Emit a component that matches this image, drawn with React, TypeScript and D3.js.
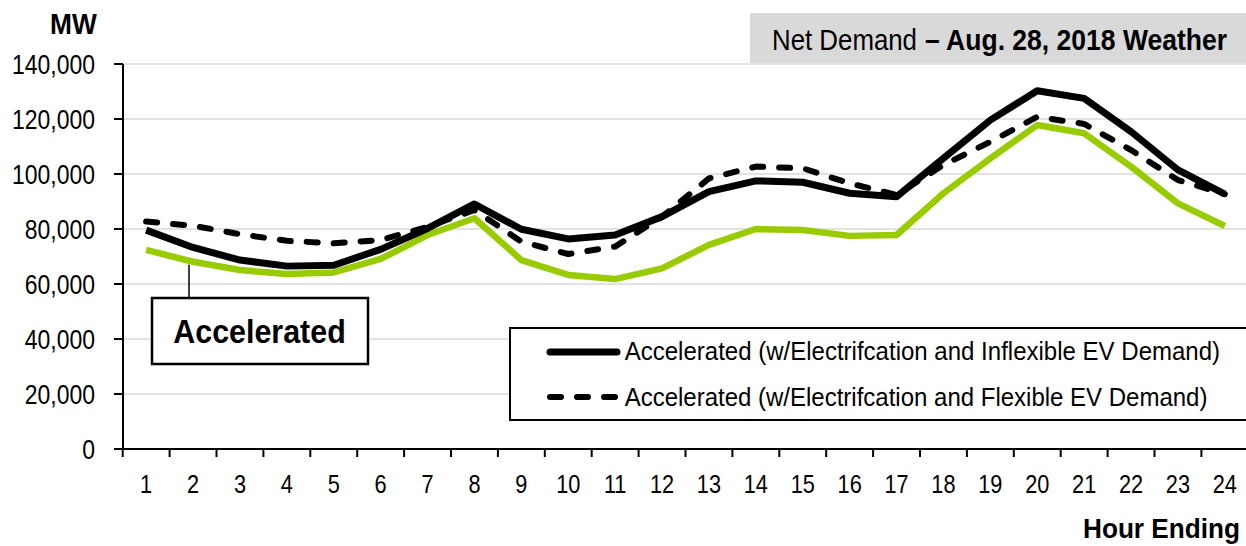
import React, { useLayoutEffect, useRef, useState } from "react";
import * as d3 from "d3";

const hours = d3.range(1, 25).map(String);
const yTicks = [0, 20000, 40000, 60000, 80000, 100000, 120000, 140000];

const inflexible = [79600, 73300, 68700, 66500, 66800, 72600, 80200, 89100, 79900, 76400, 77800, 84500,
  93600, 97500, 97000, 93000, 91700, 105700, 119600, 130300, 127500, 115400, 101500, 92700];
const flexible = [82700, 81200, 78100, 75700, 74800, 76000, 80800, 86900, 75400, 70900, 73600, 84500,
  98400, 102700, 102100, 96600, 92400, 103300, 111700, 120800, 118200, 108700, 97800, 92700];
const accelerated = [72400, 68100, 65100, 63600, 64200, 69100, 77800, 83900, 68700, 63300, 61800, 65700,
  74200, 80000, 79600, 77500, 77800, 93000, 105700, 117800, 114800, 102700, 89300, 81100];

const titleRegular = "Net Demand";
const titleBold = "– Aug. 28, 2018 Weather";
const legendLabels = [
  "Accelerated (w/Electrifcation and Inflexible EV Demand)",
  "Accelerated (w/Electrifcation and Flexible EV Demand)",
];
const annotation = "Accelerated";
const yTitle = "MW";
const xTitle = "Hour Ending";

const W = 1246;
const H = 546;
const FONT = "'Liberation Sans', Arial, sans-serif";
const GREEN = "#99cc00";
const SX = 0.82;

type FitProps = {
  x: number;
  y: number;
  width: number;
  fontSize: number;
  bold?: boolean;
  children: string;
};

function FitText({ x, y, width, fontSize, bold, children }: FitProps) {
  const ref = useRef<SVGTextElement>(null);
  const [s, setS] = useState(SX);
  useLayoutEffect(() => {
    if (ref.current) {
      const n = ref.current.getComputedTextLength();
      if (n > 0) setS(width / n);
    }
  }, [width, children, fontSize]);
  return (
    <text
      ref={ref}
      transform={`translate(${x},${y}) scale(${s},1)`}
      fontSize={fontSize}
      fontWeight={bold ? "bold" : "normal"}
      fill="#000"
    >
      {children}
    </text>
  );
}

export default function App() {
  const x = d3.scaleBand<string>().domain(hours).range([122.7, 122.7 + 24 * 46.9]);
  const y = d3.scaleLinear().domain([0, 140000]).range([449, 64]);
  const cx = (i: number) => (x(hours[i]) as number) + x.bandwidth() / 2;
  const line = d3
    .line<number>()
    .x((_, i) => cx(i))
    .y((d) => y(d));
  const fmt = d3.format(",");
  const tickXs = hours.map((h) => x(h) as number).concat([x.range()[1]]);

  return (
    <svg width={W} height={H} style={{ display: "block", fontFamily: FONT }}>
      <style>{"body{margin:0}"}</style>
      {/* gridlines */}
      {yTicks.slice(1).map((t) => (
        <line key={t} x1={123} x2={W} y1={y(t)} y2={y(t)} stroke="#d9d9d9" strokeWidth={1.5} />
      ))}
      {/* title box */}
      <rect x={750} y={13} width={W - 750} height={50} fill="#d9d9d9" />
      <FitText x={772} y={50} fontSize={30} width={145}>{titleRegular}</FitText>
      <FitText x={925} y={50} fontSize={30} width={302} bold>{titleBold}</FitText>
      {/* y axis */}
      <line x1={123} x2={123} y1={y(140000)} y2={y(0)} stroke="#000" strokeWidth={2} />
      {yTicks.map((t) => (
        <g key={t}>
          <line x1={114} x2={123} y1={y(t)} y2={y(t)} stroke="#000" strokeWidth={2} />
          <text
            transform={`translate(95,${y(t) + 10}) scale(${SX},1)`}
            fontSize={28}
            textAnchor="end"
            fill="#000"
          >
            {fmt(t)}
          </text>
        </g>
      ))}
      <FitText x={50} y={34} fontSize={29} width={46.7} bold>{yTitle}</FitText>
      {/* x axis */}
      <line x1={122} x2={W} y1={y(0)} y2={y(0)} stroke="#000" strokeWidth={2} />
      {tickXs.map((tx, i) => (
        <line key={i} x1={tx} x2={tx} y1={y(0)} y2={y(0) + 8} stroke="#000" strokeWidth={2} />
      ))}
      {hours.map((h, i) => (
        <text
          key={h}
          transform={`translate(${cx(i)},493) scale(${SX},1)`}
          fontSize={26.5}
          textAnchor="middle"
        >
          {h}
        </text>
      ))}
      <FitText x={1083} y={538} fontSize={27} width={157} bold>{xTitle}</FitText>
      {/* series */}
      <path d={line(accelerated) || ""} fill="none" stroke={GREEN} strokeWidth={6.5} strokeLinejoin="round" />
      <path d={line(inflexible) || ""} fill="none" stroke="#000" strokeWidth={7} strokeLinejoin="round" />
      <path
        d={line(flexible) || ""}
        fill="none"
        stroke="#000"
        strokeWidth={6}
        strokeDasharray="11 16"
        strokeLinecap="round"
        strokeLinejoin="round"
      />
      {/* annotation */}
      <line x1={189} x2={189} y1={y(accelerated[1]) + 3} y2={298} stroke="#000" strokeWidth={1.5} />
      <rect x={152} y={298} width={216} height={66} fill="#fff" stroke="#000" strokeWidth={2.5} />
      <FitText x={173.3} y={343} fontSize={34} width={172.4} bold>{annotation}</FitText>
      {/* legend */}
      <rect x={510} y={328} width={W - 500} height={92} fill="#fff" stroke="#000" strokeWidth={2} />
      <line x1={550} x2={617} y1={352} y2={352} stroke="#000" strokeWidth={7} strokeLinecap="round" />
      <line x1={550} x2={617} y1={397} y2={397} stroke="#000" strokeWidth={6} strokeDasharray="11 16" strokeLinecap="round" />
      <FitText x={624.7} y={360} fontSize={25.5} width={595}>{legendLabels[0]}</FitText>
      <FitText x={624.7} y={405.5} fontSize={25.5} width={582.5}>{legendLabels[1]}</FitText>
    </svg>
  );
}
